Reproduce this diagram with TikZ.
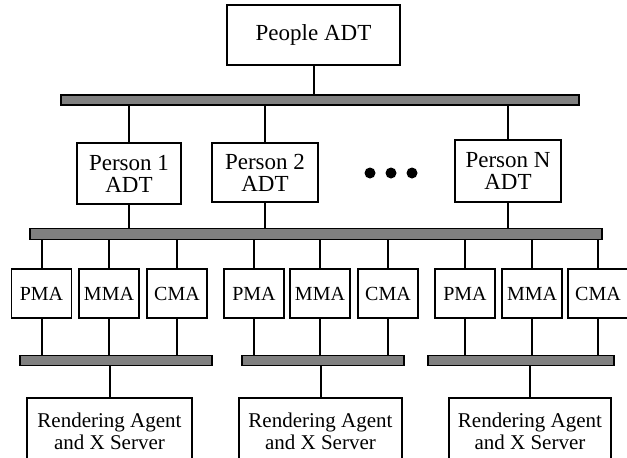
\documentclass[tikz,border=0pt]{standalone}
\usepackage{fontspec}
\setmainfont{Liberation Serif}
\usepackage{tikz}
\usetikzlibrary{calc,positioning}

\begin{document}
\begin{tikzpicture}[x=1pt,y=-1pt,
  AdtStyle/.style={draw,line width=1.8pt,fill=white,inner sep=0pt,align=center,
                   font=\fontsize{23}{22}\selectfont},
  AgentStyle/.style={draw,line width=1.8pt,fill=white,inner sep=0pt,
                   minimum width=60pt,minimum height=49pt,font=\fontsize{20}{20}\selectfont},
  RenderStyle/.style={draw,line width=1.8pt,fill=white,inner sep=0pt,align=center,
                   minimum height=66pt,font=\fontsize{21}{22}\selectfont},
  BusStyle/.style={draw,line width=1.5pt,fill=black!50,inner sep=0pt,minimum height=10pt},
  LinkStyle/.style={line width=2pt}]
  \useasboundingbox (0,0) rectangle (627,458);

  % top level
  \node[AdtStyle,minimum width=173pt,minimum height=60pt] (people) at (313.5,35) {People ADT};
  \node[BusStyle,minimum width=518pt] (topbus) at (320,100) {};

  % persons
  \node[AdtStyle,minimum width=104pt,minimum height=61pt] (person1) at (129,173.5) {Person 1\\ADT};
  \node[AdtStyle,minimum width=106pt,minimum height=59pt] (person2) at (265,172.5) {Person 2\\ADT};
  \node[AdtStyle,minimum width=106pt,minimum height=62pt] (personN) at (508,171) {Person N\\ADT};
  \fill (370,173) circle (5.5) (391,173) circle (5.5) (412,173) circle (5.5);

  \node[BusStyle,minimum width=572pt,minimum height=11pt] (midbus) at (316,234) {};

  % agents
  \node[AgentStyle] (pma1) at (41.5,293.5) {PMA};
  \node[AgentStyle] (mma1) at (109,293.5) {MMA};
  \node[AgentStyle] (cma1) at (177,293.5) {CMA};
  \node[AgentStyle] (pma2) at (254,293.5) {PMA};
  \node[AgentStyle] (mma2) at (320,293.5) {MMA};
  \node[AgentStyle] (cma2) at (388,293.5) {CMA};
  \node[AgentStyle] (pma3) at (465,293.5) {PMA};
  \node[AgentStyle] (mma3) at (532,293.5) {MMA};
  \node[AgentStyle] (cma3) at (598,293.5) {CMA};

  \node[BusStyle,minimum width=192pt] (lowbus1) at (116,360.5) {};
  \node[BusStyle,minimum width=162pt] (lowbus2) at (323,360.5) {};
  \node[BusStyle,minimum width=186pt] (lowbus3) at (521,360.5) {};

  % rendering
  \node[RenderStyle,minimum width=165pt] (render1) at (109.5,431) {Rendering Agent\\and X Server};
  \node[RenderStyle,minimum width=163pt] (render2) at (320.5,431) {Rendering Agent\\and X Server};
  \node[RenderStyle,minimum width=162pt] (render3) at (530,431) {Rendering Agent\\and X Server};

  % links
  \draw[LinkStyle] (people.south) -- (people.south |- topbus.north);
  \foreach \p in {person1,person2,personN} {
    \draw[LinkStyle] (\p.north) -- (\p.north |- topbus.south);
    \draw[LinkStyle] (\p.south) -- (\p.south |- midbus.north);
  }
  \foreach \a/\b in {pma1/lowbus1,mma1/lowbus1,cma1/lowbus1,
                     pma2/lowbus2,mma2/lowbus2,cma2/lowbus2,
                     pma3/lowbus3,mma3/lowbus3,cma3/lowbus3} {
    \draw[LinkStyle] (\a.north) -- (\a.north |- midbus.south);
    \draw[LinkStyle] (\a.south) -- (\a.south |- \b.north);
  }
  \foreach \r/\b in {render1/lowbus1,render2/lowbus2,render3/lowbus3}
    \draw[LinkStyle] (\r.north) -- (\r.north |- \b.south);
\end{tikzpicture}
\end{document}
